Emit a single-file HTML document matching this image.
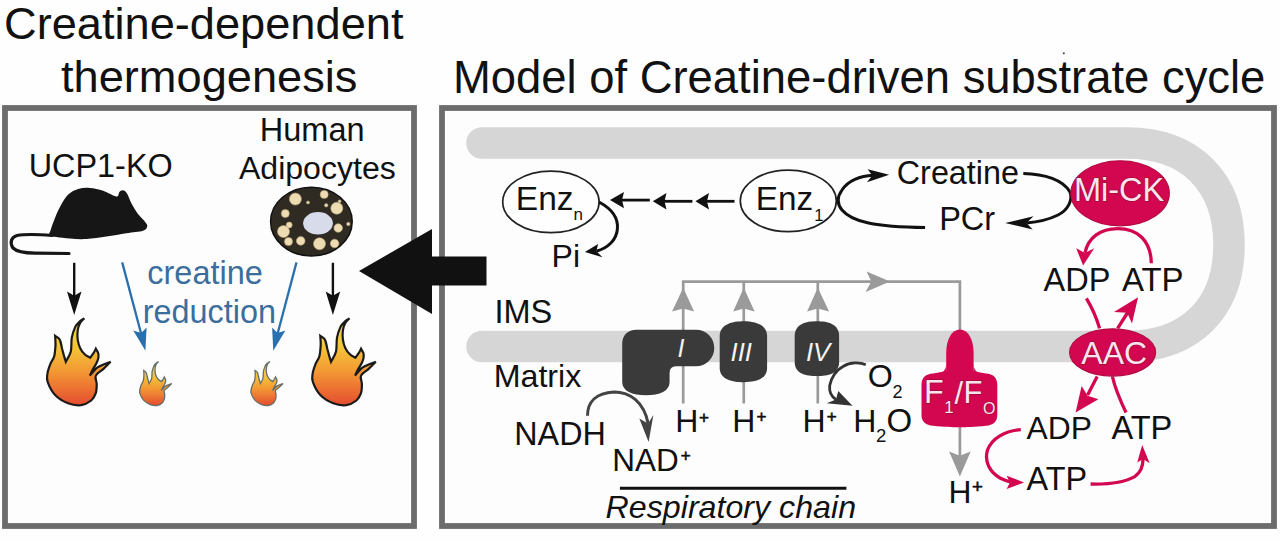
<!DOCTYPE html>
<html><head><meta charset="utf-8"><style>
html,body{margin:0;padding:0;background:#fff;width:1280px;height:541px;overflow:hidden}
svg{display:block}
text{font-family:"Liberation Sans",sans-serif}
</style></head><body>
<svg width="1280" height="541" viewBox="0 0 1280 541">
<defs>
<linearGradient id="fl" x1="0" y1="0" x2="0" y2="1">
<stop offset="0" stop-color="#f3e03c"/>
<stop offset="0.35" stop-color="#f4c238"/>
<stop offset="0.6" stop-color="#f39a34"/>
<stop offset="1" stop-color="#e44c30"/>
</linearGradient>
</defs>
<rect x="0" y="0" width="1280" height="541" fill="#fefefe"/>
<!-- titles -->
<text x="4" y="39" font-size="45.2" fill="#111">Creatine-dependent</text>
<text x="61" y="92" font-size="45.2" fill="#111">thermogenesis</text>
<text x="453" y="93.4" font-size="45.4" fill="#111">Model of Creatine-driven substrate cycle</text>
<circle cx="1063.8" cy="53.3" r="1.1" fill="#555"/>
<!-- boxes -->
<rect x="5" y="108" width="409" height="418" fill="#fdfdfd" stroke="#6c6c6c" stroke-width="5.8"/>
<rect x="442" y="108" width="832" height="418" fill="#fdfdfd" stroke="#6c6c6c" stroke-width="5.8"/>

<!-- LEFT PANEL -->
<text x="28.7" y="176.9" font-size="32.4" fill="#111">UCP1-KO</text>
<text x="259.8" y="140.5" font-size="32.5" fill="#111">Human</text>
<text x="238.9" y="178.8" font-size="32.1" fill="#111">Adipocytes</text>
<path d="M49.1,235.7 C48.1,234.5 49.8,232.7 50.7,229.9 C51.6,227.1 53.0,223.0 54.6,219.1 C56.1,215.2 57.9,210.7 60.2,206.6 C62.5,202.5 65.2,197.6 68.2,194.6 C71.2,191.7 74.6,190.1 78.2,189.0 C81.8,187.9 85.7,187.7 89.8,188.0 C94.0,188.3 98.7,189.4 103.1,190.8 C107.6,192.2 113.7,196.4 116.4,196.6 C119.1,196.8 118.4,193.0 119.4,192.0 C120.5,190.9 121.5,190.1 122.7,190.3 C124.0,190.5 125.3,190.8 126.7,193.0 C128.2,195.1 129.5,199.8 131.4,203.3 C133.3,206.8 135.7,210.9 138.0,214.1 C140.4,217.3 144.0,220.3 145.5,222.4 C147.1,224.5 147.6,225.2 147.2,226.6 C146.8,227.9 146.5,229.6 143.0,230.7 C139.6,231.8 132.5,232.2 126.4,233.2 C120.3,234.2 113.1,235.6 106.4,236.5 C99.8,237.5 92.6,238.7 86.5,239.0 C80.4,239.4 74.8,238.9 69.9,238.5 C64.9,238.2 60.0,237.3 56.5,236.9 C53.1,236.4 50.0,236.9 49.1,235.7 Z" fill="#161616"/>
<path d="M52,235.5 C40,234.5 25,234 17,235.5 C11,237 9.5,243 13,248 C17,252 25,253 35,253.2 L69,253.5" fill="none" stroke="#161616" stroke-width="3.2" stroke-linecap="round"/>
<!-- cell -->
<ellipse cx="311.4" cy="221.6" rx="40.8" ry="34.4" fill="#2f2a22" stroke="#111" stroke-width="1.5"/>
<ellipse cx="318" cy="223.3" rx="14.9" ry="11.2" fill="#d8dcea"/>
<g fill="#eddcb2" stroke="#b8a67a" stroke-width="0.6">
<circle cx="295.4" cy="199.1" r="6"/><circle cx="324.2" cy="194.4" r="4"/><circle cx="308" cy="202.4" r="1.5"/>
<circle cx="326.2" cy="205.3" r="1.7"/><circle cx="336.8" cy="208.2" r="6"/><circle cx="285.3" cy="213.5" r="4"/>
<circle cx="289.2" cy="225" r="3"/><circle cx="283.5" cy="231.6" r="6"/><circle cx="338.2" cy="228" r="4.3"/>
<circle cx="348.3" cy="224" r="1.7"/><circle cx="339.6" cy="201.3" r="1.4"/><circle cx="288.5" cy="241.6" r="4"/>
<circle cx="300.7" cy="240.9" r="4.3"/><circle cx="319.5" cy="243.8" r="6"/><circle cx="334.6" cy="243.5" r="4.3"/>
</g>
<!-- black arrows -->
<g stroke="#111" stroke-width="2.4" fill="none">
<path d="M74.2,262.8 V298"/>
<path d="M332.9,262.8 V298"/>
</g>
<g fill="#111">
<polygon points="74.2,315.1 67,291.6 74.2,295.8 81.5,291.6"/>
<polygon points="332.9,315.1 325.7,291.6 332.9,295.8 340.2,291.6"/>
</g>
<!-- blue arrows -->
<g stroke="#2a6fae" stroke-width="2.3" fill="none">
<path d="M122.2,262.4 L141.2,334"/>
<path d="M296.5,262.4 L277.5,334"/>
</g>
<g fill="#2a6fae">
<polygon points="145.4,350.7 133.3,330.4 141.2,332.9 146.6,327.5"/>
<polygon points="273.3,350.7 285.4,330.4 277.5,332.9 272.1,327.5"/>
</g>
<text x="147.3" y="284.1" font-size="32.5" fill="#3b6e9c">creatine</text>
<text x="142.7" y="323.2" font-size="32.4" fill="#3b6e9c">reduction</text>
<!-- flames -->
<path d="M84.3,318.3 C83.6,319.1 81.2,320.9 80.1,322.9 C79.0,324.9 78.1,327.6 77.7,330.3 C77.3,333.1 77.3,336.6 77.7,339.6 C78.1,342.5 78.9,345.4 80.1,347.9 C81.2,350.3 83.0,352.7 84.7,354.3 C86.4,356.0 89.3,357.1 90.2,357.7 C90.8,356.8 93.0,354.0 93.9,352.5 C94.8,351.0 95.5,349.4 95.8,348.8 C96.2,349.7 98.3,352.2 98.5,354.3 C98.8,356.5 98.2,359.3 97.2,361.7 C96.3,364.2 94.2,366.8 93.0,369.1 C91.8,371.4 90.4,374.5 89.9,375.6 C91.2,374.2 94.2,369.6 97.6,367.3 C101.1,365.0 108.4,362.7 110.6,361.7 C109.3,363.0 105.6,366.8 103.2,369.1 C100.7,371.4 96.8,373.1 95.8,375.6 C94.7,378.1 96.7,381.0 96.7,383.9 C96.7,386.8 96.7,390.4 95.8,393.1 C94.8,395.9 93.6,398.5 91.2,400.5 C88.7,402.5 84.8,404.7 81.0,405.2 C77.1,405.6 72.4,405.0 68.1,403.3 C63.7,401.6 58.5,398.5 55.1,395.0 C51.7,391.4 49.0,385.6 47.7,382.1 C46.4,378.5 46.9,376.8 47.4,373.7 C47.8,370.7 49.4,366.5 50.5,363.6 C51.6,360.7 53.4,359.3 54.2,356.2 C55.0,353.1 55.3,348.5 55.5,345.1 C55.6,341.7 55.2,337.4 55.1,335.9 C55.9,336.5 58.6,337.4 59.7,339.6 C60.9,341.7 61.4,345.9 62.1,348.8 C62.9,351.7 63.7,355.0 64.4,357.1 C65.0,359.3 65.6,361.0 65.8,361.7 C66.7,360.0 69.8,355.6 70.8,351.6 C71.8,347.6 71.0,341.9 71.8,337.7 C72.5,333.6 74.1,329.4 75.4,326.6 C76.8,323.9 78.6,322.5 80.1,321.1 C81.5,319.7 83.6,318.8 84.3,318.3 Z" fill="url(#fl)" stroke="#1a1a1a" stroke-width="2.2"/>
<path d="M84.3,318.3 C83.6,319.1 81.2,320.9 80.1,322.9 C79.0,324.9 78.1,327.6 77.7,330.3 C77.3,333.1 77.3,336.6 77.7,339.6 C78.1,342.5 78.9,345.4 80.1,347.9 C81.2,350.3 83.0,352.7 84.7,354.3 C86.4,356.0 89.3,357.1 90.2,357.7 C90.8,356.8 93.0,354.0 93.9,352.5 C94.8,351.0 95.5,349.4 95.8,348.8 C96.2,349.7 98.3,352.2 98.5,354.3 C98.8,356.5 98.2,359.3 97.2,361.7 C96.3,364.2 94.2,366.8 93.0,369.1 C91.8,371.4 90.4,374.5 89.9,375.6 C91.2,374.2 94.2,369.6 97.6,367.3 C101.1,365.0 108.4,362.7 110.6,361.7 C109.3,363.0 105.6,366.8 103.2,369.1 C100.7,371.4 96.8,373.1 95.8,375.6 C94.7,378.1 96.7,381.0 96.7,383.9 C96.7,386.8 96.7,390.4 95.8,393.1 C94.8,395.9 93.6,398.5 91.2,400.5 C88.7,402.5 84.8,404.7 81.0,405.2 C77.1,405.6 72.4,405.0 68.1,403.3 C63.7,401.6 58.5,398.5 55.1,395.0 C51.7,391.4 49.0,385.6 47.7,382.1 C46.4,378.5 46.9,376.8 47.4,373.7 C47.8,370.7 49.4,366.5 50.5,363.6 C51.6,360.7 53.4,359.3 54.2,356.2 C55.0,353.1 55.3,348.5 55.5,345.1 C55.6,341.7 55.2,337.4 55.1,335.9 C55.9,336.5 58.6,337.4 59.7,339.6 C60.9,341.7 61.4,345.9 62.1,348.8 C62.9,351.7 63.7,355.0 64.4,357.1 C65.0,359.3 65.6,361.0 65.8,361.7 C66.7,360.0 69.8,355.6 70.8,351.6 C71.8,347.6 71.0,341.9 71.8,337.7 C72.5,333.6 74.1,329.4 75.4,326.6 C76.8,323.9 78.6,322.5 80.1,321.1 C81.5,319.7 83.6,318.8 84.3,318.3 Z" fill="url(#fl)" stroke="#1a1a1a" stroke-width="2.2" transform="translate(265.2,0)"/>
<path d="M84.3,318.3 C83.6,319.1 81.2,320.9 80.1,322.9 C79.0,324.9 78.1,327.6 77.7,330.3 C77.3,333.1 77.3,336.6 77.7,339.6 C78.1,342.5 78.9,345.4 80.1,347.9 C81.2,350.3 83.0,352.7 84.7,354.3 C86.4,356.0 89.3,357.1 90.2,357.7 C90.8,356.8 93.0,354.0 93.9,352.5 C94.8,351.0 95.5,349.4 95.8,348.8 C96.2,349.7 98.3,352.2 98.5,354.3 C98.8,356.5 98.2,359.3 97.2,361.7 C96.3,364.2 94.2,366.8 93.0,369.1 C91.8,371.4 90.4,374.5 89.9,375.6 C91.2,374.2 94.2,369.6 97.6,367.3 C101.1,365.0 108.4,362.7 110.6,361.7 C109.3,363.0 105.6,366.8 103.2,369.1 C100.7,371.4 96.8,373.1 95.8,375.6 C94.7,378.1 96.7,381.0 96.7,383.9 C96.7,386.8 96.7,390.4 95.8,393.1 C94.8,395.9 93.6,398.5 91.2,400.5 C88.7,402.5 84.8,404.7 81.0,405.2 C77.1,405.6 72.4,405.0 68.1,403.3 C63.7,401.6 58.5,398.5 55.1,395.0 C51.7,391.4 49.0,385.6 47.7,382.1 C46.4,378.5 46.9,376.8 47.4,373.7 C47.8,370.7 49.4,366.5 50.5,363.6 C51.6,360.7 53.4,359.3 54.2,356.2 C55.0,353.1 55.3,348.5 55.5,345.1 C55.6,341.7 55.2,337.4 55.1,335.9 C55.9,336.5 58.6,337.4 59.7,339.6 C60.9,341.7 61.4,345.9 62.1,348.8 C62.9,351.7 63.7,355.0 64.4,357.1 C65.0,359.3 65.6,361.0 65.8,361.7 C66.7,360.0 69.8,355.6 70.8,351.6 C71.8,347.6 71.0,341.9 71.8,337.7 C72.5,333.6 74.1,329.4 75.4,326.6 C76.8,323.9 78.6,322.5 80.1,321.1 C81.5,319.7 83.6,318.8 84.3,318.3 Z" fill="url(#fl)" stroke="#66706a" stroke-width="2.6" transform="translate(115.9,200.9) scale(0.505)"/>
<path d="M84.3,318.3 C83.6,319.1 81.2,320.9 80.1,322.9 C79.0,324.9 78.1,327.6 77.7,330.3 C77.3,333.1 77.3,336.6 77.7,339.6 C78.1,342.5 78.9,345.4 80.1,347.9 C81.2,350.3 83.0,352.7 84.7,354.3 C86.4,356.0 89.3,357.1 90.2,357.7 C90.8,356.8 93.0,354.0 93.9,352.5 C94.8,351.0 95.5,349.4 95.8,348.8 C96.2,349.7 98.3,352.2 98.5,354.3 C98.8,356.5 98.2,359.3 97.2,361.7 C96.3,364.2 94.2,366.8 93.0,369.1 C91.8,371.4 90.4,374.5 89.9,375.6 C91.2,374.2 94.2,369.6 97.6,367.3 C101.1,365.0 108.4,362.7 110.6,361.7 C109.3,363.0 105.6,366.8 103.2,369.1 C100.7,371.4 96.8,373.1 95.8,375.6 C94.7,378.1 96.7,381.0 96.7,383.9 C96.7,386.8 96.7,390.4 95.8,393.1 C94.8,395.9 93.6,398.5 91.2,400.5 C88.7,402.5 84.8,404.7 81.0,405.2 C77.1,405.6 72.4,405.0 68.1,403.3 C63.7,401.6 58.5,398.5 55.1,395.0 C51.7,391.4 49.0,385.6 47.7,382.1 C46.4,378.5 46.9,376.8 47.4,373.7 C47.8,370.7 49.4,366.5 50.5,363.6 C51.6,360.7 53.4,359.3 54.2,356.2 C55.0,353.1 55.3,348.5 55.5,345.1 C55.6,341.7 55.2,337.4 55.1,335.9 C55.9,336.5 58.6,337.4 59.7,339.6 C60.9,341.7 61.4,345.9 62.1,348.8 C62.9,351.7 63.7,355.0 64.4,357.1 C65.0,359.3 65.6,361.0 65.8,361.7 C66.7,360.0 69.8,355.6 70.8,351.6 C71.8,347.6 71.0,341.9 71.8,337.7 C72.5,333.6 74.1,329.4 75.4,326.6 C76.8,323.9 78.6,322.5 80.1,321.1 C81.5,319.7 83.6,318.8 84.3,318.3 Z" fill="url(#fl)" stroke="#66706a" stroke-width="2.6" transform="translate(227.2,200.9) scale(0.505)"/>

<!-- big black arrow -->
<polygon points="359,271 432,229 432,256.5 486.5,256.5 486.5,285.5 432,285.5 432,314" fill="#111"/>

<!-- RIGHT PANEL -->
<!-- membrane -->
<path d="M482,143 H1127 C1190.2,143 1229,181.7 1229,244.75 C1229,307.8 1190.2,346.5 1127,346.5 H482" fill="none" stroke="#d6d6d6" stroke-width="31.5" stroke-linecap="round"/>
<text x="494.5" y="323.3" font-size="32.5" fill="#111">IMS</text>
<text x="493.7" y="387" font-size="32.2" fill="#111">Matrix</text>

<!-- Enz ellipses -->
<ellipse cx="550.9" cy="201.9" rx="48.2" ry="30.8" fill="#fefefe" stroke="#222" stroke-width="1.7"/>
<text x="515.8" y="209.9" font-size="33.5" fill="#111">Enz</text>
<text x="573.5" y="220.4" font-size="17" fill="#111">n</text>
<ellipse cx="788.3" cy="200.9" rx="48" ry="30.8" fill="#fefefe" stroke="#222" stroke-width="1.7"/>
<text x="755.7" y="209.5" font-size="33.3" fill="#111">Enz</text>
<text x="814.3" y="220.6" font-size="16.5" fill="#111">1</text>
<!-- left arrows -->
<g stroke="#111" stroke-width="2.8">
<path d="M649.8,200.1 H619"/><path d="M692.4,201.3 H662"/><path d="M734.5,201.3 H705"/>
</g>
<g fill="#111">
<polygon points="610,200.1 624,192 622,200.1 624,208.2"/>
<polygon points="652.8,201.2 666.5,193 664.5,201.2 666.5,209.4"/>
<polygon points="695.4,201.2 709,193 707,201.2 709,209.4"/>
</g>
<!-- Pi arc -->
<path d="M599,202 C612,209 618.5,218 617.4,229 C616.5,240 608,248 596.4,251.2" fill="none" stroke="#111" stroke-width="3"/>
<polygon points="584.9,252 598.1,244.1 596.4,251.2 602.5,257.3" fill="#111"/>
<text x="551.6" y="267" font-size="32" fill="#111">Pi</text>

<!-- Creatine / PCr -->
<text x="896.8" y="184.1" font-size="32.3" fill="#111">Creatine</text>
<text x="939.2" y="230.4" font-size="32.5" fill="#111">PCr</text>
<path d="M873,175.3 C860,175.8 848,181 842,190 C837,197 837,204 842,210 C852,222 875,227 925.1,227.6" fill="none" stroke="#111" stroke-width="3"/>
<polygon points="889.2,174.8 867.7,169.2 872.2,175.5 867,182.2" fill="#111"/>
<path d="M1023.3,173.5 C1045,174 1063,180 1070,192 C1073,200 1068,210 1058,215 C1048,220 1038,222 1026.4,222.9" fill="none" stroke="#111" stroke-width="3"/>
<polygon points="1005.2,222.9 1033.5,216.3 1026.4,222.9 1032.7,229.6" fill="#111"/>

<!-- Mi-CK -->
<ellipse cx="1120.1" cy="193.35" rx="49.2" ry="32.5" fill="#d2074f" stroke="#b30a42" stroke-width="1.2"/>
<text x="1074" y="201" font-size="32.5" fill="#fbe4ee" stroke="#a30a3c" stroke-width="1.5" paint-order="stroke">Mi-CK</text>
<path d="M1151.3,263.3 C1151,240 1137,228.6 1117.8,228.6 C1100,228.6 1088,238 1085,252.9" fill="none" stroke="#d2074f" stroke-width="3.3"/>
<polygon points="1083.1,265.6 1076.2,248.3 1085,252.9 1094.2,248.3" fill="#d2074f"/>
<text x="1043.5" y="291.25" font-size="32.5" fill="#111">ADP</text>
<text x="1121.9" y="291.25" font-size="33" fill="#111">ATP</text>

<!-- AAC -->
<ellipse cx="1112.6" cy="352.45" rx="43" ry="23.6" fill="#d2074f" stroke="#b30a42" stroke-width="1.2"/>
<text x="1081.3" y="363.5" font-size="32" fill="#fbe4ee" stroke="#a30a3c" stroke-width="1.5" paint-order="stroke">AAC</text>
<g stroke="#d2074f" stroke-width="3.3" fill="none">
<path d="M1086.4,298.4 C1091,306 1096,316 1099.6,328.4"/>
<path d="M1117.6,328.4 L1128,312"/>
<path d="M1097.2,376.5 L1087.6,395"/>
<path d="M1112.4,376.5 C1115,388 1120,400 1126,412.5"/>
</g>
<polygon points="1138.1,297.2 1114,312.1 1127.2,312.8 1132,323.6" fill="#d2074f"/>
<polygon points="1075.6,412.5 1081.6,386.1 1087.6,395.7 1098.4,399.3" fill="#d2074f"/>
<text x="1026.6" y="439.1" font-size="31.8" fill="#111">ADP</text>
<text x="1111.4" y="439.1" font-size="32.6" fill="#111">ATP</text>
<text x="1026.6" y="489.9" font-size="32.4" fill="#111">ATP</text>
<path d="M1020.8,429.6 C1005,431 992,438 987.5,450 C984,462 990,472 1000,478 C1004,480 1008,481.5 1011,482.2" fill="none" stroke="#d2074f" stroke-width="3.3"/>
<polygon points="1024.1,482.4 1006.6,475.7 1010,482.4 1006.6,489" fill="#d2074f"/>
<path d="M1090.6,484 C1110,484.5 1125,482 1134.7,476.6 C1140,473 1143,466 1143,459" fill="none" stroke="#d2074f" stroke-width="3.3"/>
<polygon points="1142.2,445 1137.2,462.4 1143,459 1149.7,463.2" fill="#d2074f"/>

<!-- respiratory chain gray lines -->
<g stroke="#9a9a9a" stroke-width="2.7" fill="none">
<path d="M683.2,403.5 V281.6 H959.9 V335"/>
<path d="M743.75,403.5 V281.6"/>
<path d="M817.8,403.5 V281.6"/>
<path d="M959.9,425 V456"/>
</g>
<g fill="#9a9a9a">
<polygon points="683.2,287.8 672.1,311.6 683.2,308.4 694.1,311.6"/>
<polygon points="743.75,287.8 733.2,311.6 743.75,308.4 754.6,311.6"/>
<polygon points="817.8,287.8 807.1,311.6 817.8,308.4 829.1,311.6"/>
<polygon points="890,281.6 866.6,271.5 871.25,281.6 865.6,292.1"/>
<polygon points="959.9,476.5 949.1,451.6 959.9,455.7 970.7,451.6"/>
</g>
<!-- complexes -->
<g fill="#3a3a3a">
<path d="M636.2,329.7 H696 A18.3,18.3 0 0 1 696,366.3 H676 Q669.6,366.3 669.6,373 V382 C669.6,391 660,395.3 645.9,395.3 C632,395.3 622.2,391 622.2,382 V343.7 C622.2,335 628,329.7 636.2,329.7 Z"/>
<path d="M719.7,336 C719.7,324 733,321.25 743.4,321.25 C754,321.25 767.1,324 767.1,336 V368 C767.1,380 754,382.2 743.4,382.2 C733,382.2 719.7,380 719.7,368 Z"/>
<path d="M794.7,336 C794.7,324 806,321.25 816.9,321.25 C828,321.25 839.1,324 839.1,336 V362 C839.1,374 828,376 816.9,376 C806,376 794.7,374 794.7,362 Z"/>
</g>
<g fill="#f4f4f4" font-style="italic">
<text x="677.4" y="356.9" font-size="25">I</text>
<text x="730.5" y="360.6" font-size="25.8">III</text>
<text x="805.9" y="360.6" font-size="25.8">IV</text>
</g>
<!-- O2 arc -->
<path d="M865.8,364.7 C860,362 850,362 843.4,366.2 C836,370 831,378 829.7,385.5 C829,392 832,397 836,399.5" fill="none" stroke="#333" stroke-width="2.8"/>
<polygon points="852.5,405.8 838.3,391.1 836,399.5 826.6,403.3" fill="#333"/>
<text x="867.7" y="387" font-size="32.2" fill="#111">O</text>
<text x="892.5" y="397.7" font-size="18" fill="#111">2</text>
<!-- NADH -->
<text x="514.3" y="445.1" font-size="32.3" fill="#111">NADH</text>
<path d="M587.5,415.7 C587.5,402 596,393 613.9,392 C630,392 644,402 648.1,423.6" fill="none" stroke="#444" stroke-width="3"/>
<polygon points="648.6,442.1 639.3,418.4 648.1,423.6 653.4,414.9" fill="#444"/>
<text x="612.3" y="471.4" font-size="31.5" fill="#111">NAD</text>
<text x="680.7" y="460.9" font-size="17" fill="#111" stroke="#111" stroke-width="0.6">+</text>
<!-- H+ -->
<text x="675.3" y="432.1" font-size="32" fill="#111">H</text><text x="698.9" y="422.75" font-size="17" fill="#111" stroke="#111" stroke-width="0.6">+</text>
<text x="732.3" y="432.2" font-size="32" fill="#111">H</text><text x="756.5" y="421.8" font-size="17" fill="#111" stroke="#111" stroke-width="0.6">+</text>
<text x="802.6" y="432.2" font-size="32" fill="#111">H</text><text x="826.8" y="421.8" font-size="17" fill="#111" stroke="#111" stroke-width="0.6">+</text>
<text x="853.3" y="431.7" font-size="32" fill="#111">H</text><text x="876.1" y="441.6" font-size="18.6" fill="#111">2</text><text x="886.5" y="431.9" font-size="33" fill="#111">O</text>
<text x="948.5" y="503" font-size="31.8" fill="#111">H</text><text x="972" y="492.8" font-size="18.7" fill="#111" stroke="#111" stroke-width="0.6">+</text>
<!-- Respiratory chain -->
<path d="M619.9,488.2 H846.4" stroke="#111" stroke-width="3"/>
<text x="605.6" y="517.5" font-size="32.2" font-style="italic" fill="#111">Respiratory chain</text>

<!-- F1/Fo -->
<path d="M946.2,385 V353 C946.2,339 952,329.4 959.9,329.4 C967.8,329.4 973.6,339 973.6,353 V385 Z" fill="#d2074f"/>
<path d="M921.5,385 C921.5,377 926,374 933,373.5 C945,371 952,370.4 959.4,370.4 C967,370.4 974,371 986,373.5 C993,374 997.3,377 997.3,385 V415 C997.3,422 993,425 986,425.8 C974,427 967,427.3 959.4,427.3 C952,427.3 945,427 933,425.8 C926,425 921.5,422 921.5,415 Z" fill="#d2074f"/>
<path d="M938,374 Q946.2,372 946.2,364 V376 Z M981.8,374 Q973.6,372 973.6,364 V376 Z" fill="#d2074f"/>
<g fill="#fbe4ee" stroke="#a30a3c" stroke-width="1.3" paint-order="stroke">
<text x="924" y="402.9" font-size="32.3">F</text>
<text x="944.3" y="413.3" font-size="17">1</text>
<text x="954.4" y="403.6" font-size="31">/</text>
<text x="963.5" y="402.9" font-size="31">F</text>
<text x="983" y="413.9" font-size="16">O</text>
</g>
</svg>
</body></html>
